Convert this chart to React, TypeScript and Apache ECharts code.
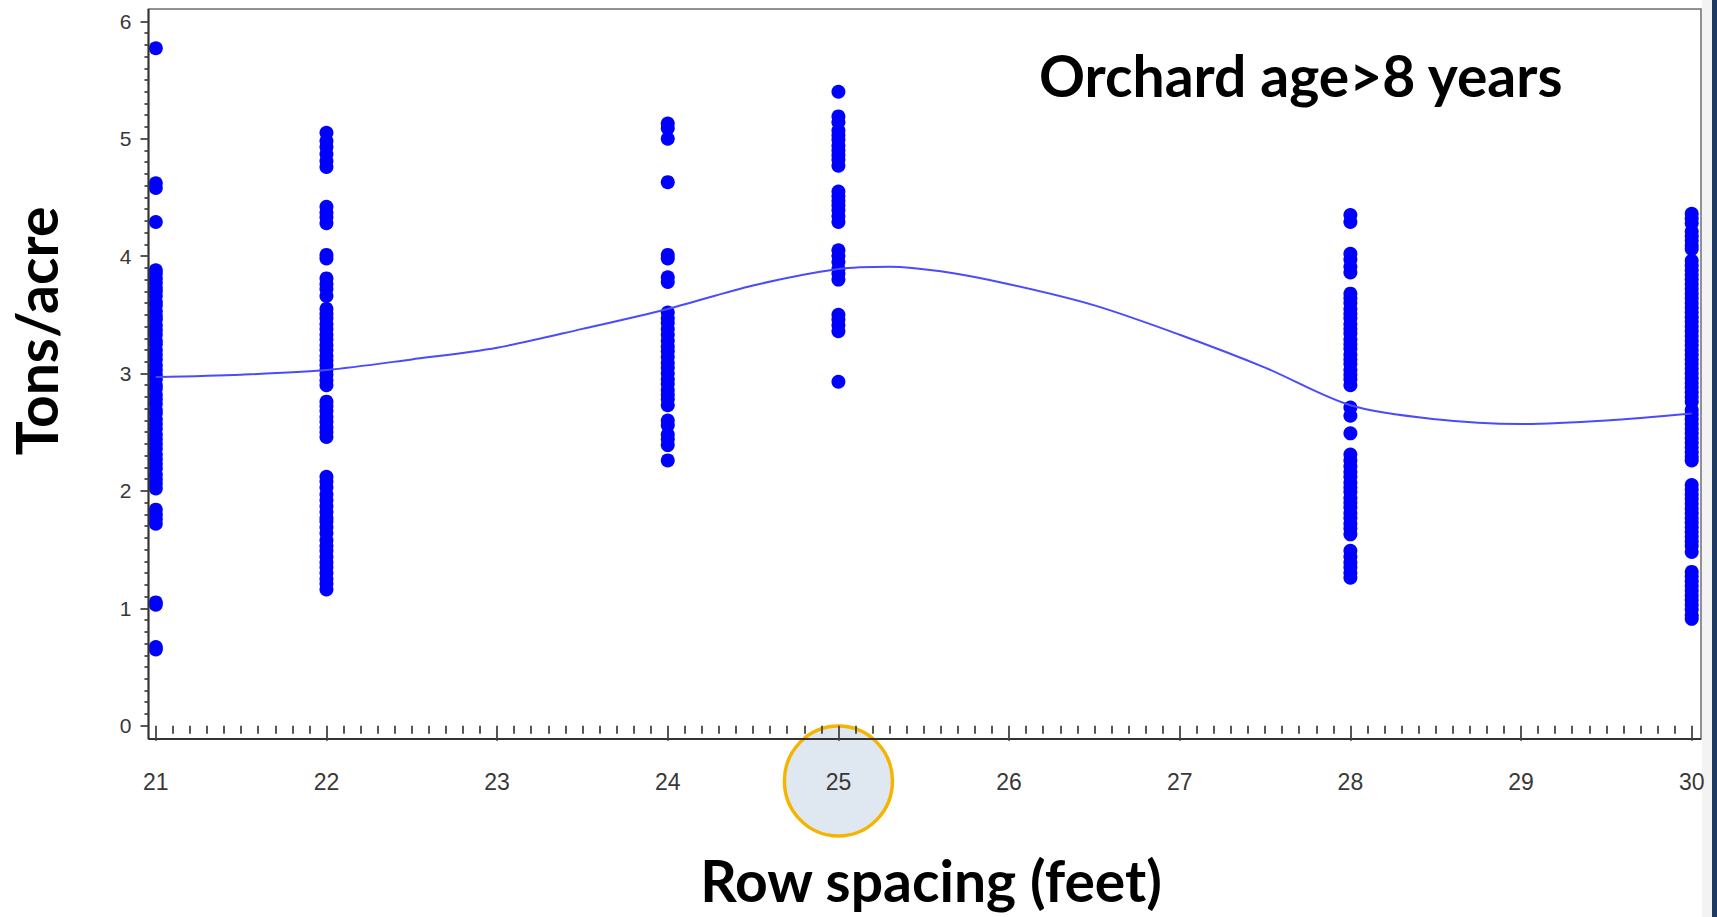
import React, { useEffect, useRef } from "react";
import * as echarts from "echarts";

// Row spacing (feet) for each column of observations
const rowSpacing = [21, 22, 24, 25, 28, 30];

const tons21 = [5.77, 4.62, 4.58, 4.29, 3.88, 3.85, 3.81, 3.77, 3.73, 3.70, 3.66, 3.61, 3.58, 3.53, 3.49, 3.46, 3.41, 3.37, 3.33, 3.28, 3.25, 3.20, 3.16, 3.12, 3.07, 3.03, 2.99, 2.95, 2.90, 2.87, 2.82, 2.78, 2.74, 2.69, 2.66, 2.61, 2.57, 2.53, 2.48, 2.44, 2.40, 2.36, 2.31, 2.27, 2.23, 2.19, 2.14, 2.10, 2.06, 2.02, 1.84, 1.80, 1.76, 1.72, 1.05, 1.03, 0.67, 0.65];
const tons22 = [5.05, 4.98, 4.93, 4.87, 4.81, 4.76, 4.42, 4.37, 4.33, 4.28, 4.01, 3.98, 3.81, 3.76, 3.72, 3.66, 3.55, 3.51, 3.47, 3.42, 3.38, 3.33, 3.29, 3.24, 3.20, 3.15, 3.11, 3.07, 3.03, 2.99, 2.94, 2.90, 2.76, 2.72, 2.68, 2.63, 2.59, 2.54, 2.50, 2.46, 2.12, 2.08, 2.03, 1.97, 1.92, 1.87, 1.82, 1.77, 1.74, 1.69, 1.64, 1.58, 1.53, 1.49, 1.44, 1.39, 1.35, 1.30, 1.25, 1.21, 1.16];
const tons24 = [5.13, 5.09, 5.00, 4.63, 4.01, 3.98, 3.82, 3.78, 3.52, 3.47, 3.43, 3.38, 3.33, 3.28, 3.23, 3.19, 3.14, 3.09, 3.05, 3.00, 2.95, 2.91, 2.86, 2.82, 2.78, 2.73, 2.60, 2.56, 2.48, 2.44, 2.39, 2.26];
const tons25 = [5.40, 5.19, 5.14, 5.07, 5.03, 4.99, 4.94, 4.90, 4.86, 4.82, 4.77, 4.55, 4.51, 4.47, 4.43, 4.39, 4.34, 4.29, 4.05, 4.00, 3.95, 3.89, 3.85, 3.80, 3.50, 3.46, 3.41, 3.36, 2.93];
const tons28 = [4.35, 4.29, 4.02, 3.97, 3.91, 3.86, 3.68, 3.64, 3.60, 3.55, 3.51, 3.47, 3.42, 3.38, 3.34, 3.29, 3.25, 3.21, 3.16, 3.12, 3.08, 3.03, 2.99, 2.95, 2.90, 2.71, 2.64, 2.49, 2.31, 2.26, 2.21, 2.16, 2.12, 2.07, 2.03, 1.99, 1.94, 1.90, 1.86, 1.81, 1.77, 1.72, 1.68, 1.63, 1.49, 1.44, 1.39, 1.35, 1.30, 1.26];
const tons30 = [4.36, 4.32, 4.28, 4.21, 4.17, 4.13, 4.09, 4.06, 3.96, 3.92, 3.88, 3.84, 3.80, 3.76, 3.72, 3.68, 3.64, 3.60, 3.56, 3.52, 3.48, 3.44, 3.40, 3.36, 3.32, 3.28, 3.24, 3.20, 3.16, 3.12, 3.08, 3.04, 3.00, 2.96, 2.92, 2.88, 2.84, 2.80, 2.76, 2.69, 2.65, 2.61, 2.57, 2.53, 2.49, 2.45, 2.41, 2.37, 2.33, 2.29, 2.26, 2.05, 2.01, 1.97, 1.93, 1.89, 1.85, 1.81, 1.77, 1.73, 1.69, 1.65, 1.61, 1.57, 1.53, 1.48, 1.31, 1.27, 1.23, 1.19, 1.15, 1.11, 1.07, 1.03, 0.99, 0.94, 0.91];

// Smoothed (loess-like) fit curve
const fitX = [21, 21.5, 22, 22.5, 23, 23.5, 24, 24.5, 25, 25.3, 25.6, 26, 26.5, 27, 27.5, 28, 28.5, 29, 29.5, 30];
const fitY = [2.97, 2.99, 3.03, 3.12, 3.22, 3.38, 3.55, 3.75, 3.89, 3.91, 3.87, 3.76, 3.58, 3.33, 3.05, 2.73, 2.61, 2.57, 2.60, 2.66];

// Tick labels
const xTicks = [21, 22, 23, 24, 25, 26, 27, 28, 29, 30];
const yTicks = [0, 1, 2, 3, 4, 5, 6];

const titleText = "Orchard age>8 years";
const xTitle = "Row spacing (feet)";
const yTitle = "Tons/acre";
const highlightX = 25;

export default function App() {
  const ref = useRef<HTMLDivElement>(null);
  useEffect(() => {
    const chart = echarts.init(ref.current!, null, { renderer: "svg" });
    const groups = [tons21, tons22, tons24, tons25, tons28, tons30];
    const pts: number[][] = [];
    groups.forEach((g, i) => g.forEach((v) => pts.push([rowSpacing[i], v])));
    const fit = fitX.map((x, i) => [x, fitY[i]]);

    const tickStyle = { color: "#444444", width: 1.8 };
    const labelStyle = { color: "#383838", fontFamily: "Liberation Sans", fontSize: 23 };
    const titleFont = { fontFamily: "Lato", fontWeight: "bold" as const, fill: "#000" };

    chart.setOption({
      animation: false,
      backgroundColor: "#ffffff",
      grid: { left: 155.8, right: 25.3, top: 21.3, bottom: 191.3 },
      xAxis: {
        type: "value",
        min: xTicks[0],
        max: xTicks[xTicks.length - 1],
        interval: 1,
        offset: 13.3,
        z: 10,
        axisLine: { show: false },
        axisTick: { show: true, length: 15, lineStyle: tickStyle },
        minorTick: { show: true, splitNumber: 10, length: 8, lineStyle: tickStyle },
        splitLine: { show: false },
        axisLabel: { ...labelStyle, margin: 31 },
      },
      yAxis: {
        type: "value",
        min: yTicks[0],
        max: yTicks[yTicks.length - 1],
        interval: 1,
        offset: 7.3,
        z: 10,
        axisLine: { show: false },
        axisTick: { show: true, length: 8, lineStyle: tickStyle },
        minorTick: { show: true, splitNumber: 10, length: 4, lineStyle: tickStyle },
        splitLine: { show: false },
        axisLabel: { ...labelStyle, fontSize: 21, margin: 17 },
      },
      series: [
        {
          type: "scatter",
          data: pts,
          symbol: "circle",
          symbolSize: 14,
          clip: false,
          itemStyle: { color: "#0000ff", opacity: 1 },
          z: 2,
        },
        {
          type: "line",
          data: fit,
          showSymbol: false,
          smooth: 0.3,
          clip: false,
          lineStyle: { color: "#4a4aff", width: 2 },
          z: 3,
        },
      ],
    });

    const cx = chart.convertToPixel({ xAxisIndex: 0 }, highlightX) as number;

    chart.setOption({
      graphic: [
        { type: "rect", z: -5, shape: { x: 1702, y: 0, width: 10, height: 917 }, style: { fill: "#f3f3f3" } },
        { type: "rect", z: 5, shape: { x: 1712, y: 0, width: 5, height: 917 }, style: { fill: "#1c3a64" } },
        { type: "rect", z: 5, shape: { x: 148.5, y: 9, width: 1552.5, height: 730 }, style: { fill: "none", stroke: "#6e6e6e", lineWidth: 1.5 } },
        { type: "line", z: 5, shape: { x1: 148.5, y1: 9, x2: 148.5, y2: 739 }, style: { stroke: "#333", lineWidth: 2 } },
        { type: "line", z: 5, shape: { x1: 148.5, y1: 739, x2: 1701, y2: 739 }, style: { stroke: "#333", lineWidth: 2 } },
        { type: "ellipse", z: -1, shape: { cx, cy: 781, rx: 54, ry: 55 }, style: { fill: "#dfe7f0", stroke: "#f5b400", lineWidth: 3.5 } },
        { type: "text", z: 6, x: 1039, y: 75, style: { text: titleText, ...titleFont, fontSize: 57, align: "left", verticalAlign: "middle" } },
        { type: "text", z: 6, x: 931, y: 880, style: { text: xTitle, ...titleFont, fontSize: 57, align: "center", verticalAlign: "middle" } },
        { type: "text", z: 6, x: 36, y: 331, rotation: Math.PI / 2, style: { text: yTitle, ...titleFont, fontSize: 57, align: "center", verticalAlign: "middle" } },
      ],
    });

    return () => chart.dispose();
  }, []);
  return <div ref={ref} style={{ position: "absolute", left: 0, top: 0, width: 1717, height: 917 }} />;
}
